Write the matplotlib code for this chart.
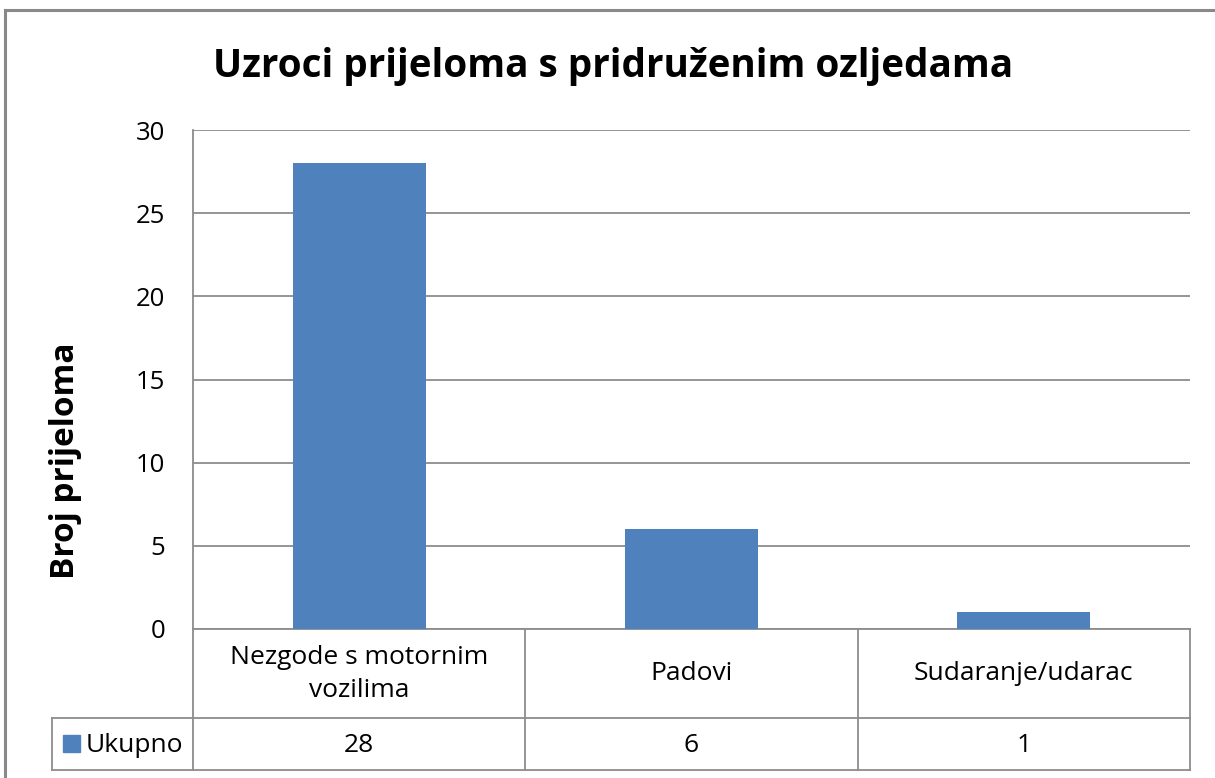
import matplotlib.pyplot as plt
from matplotlib.lines import Line2D
from matplotlib.patches import Rectangle
import matplotlib.transforms as mtransforms

plt.rcParams['font.family'] = ['Open Sans', 'DejaVu Sans']

# Data
categories = ["Nezgode s motornim\nvozilima", "Padovi", "Sudaranje/udarac"]
values = [28, 6, 1]
series_name = "Ukupno"
title = "Uzroci prijeloma s pridruženim ozljedama"
ylabel = "Broj prijeloma"

W, H = 1215, 778
bar_color = "#4F81BD"
line_color = "#8C8C8C"

fig = plt.figure(figsize=(W / 100, H / 100), dpi=100)
fig.patch.set_facecolor("white")


def fx(x):
    return x / W


def fy(y):
    return 1 - y / H


ax = fig.add_axes([fx(193), fy(629), fx(1190) - fx(193), fy(130) - fy(629)])
xs = range(len(categories))
ax.bar(xs, values, width=0.4, color=bar_color, zorder=3)
ax.set_xlim(-0.5, len(categories) - 0.5)
ax.set_ylim(0, 30)
ax.set_yticks(range(0, 31, 5))
ax.set_xticks([])
ax.tick_params(axis="y", length=0, pad=20, labelsize=18.5)
ax.yaxis.grid(True, color=line_color, lw=1.3, zorder=0)
for s in ["top", "right"]:
    ax.spines[s].set_visible(False)
for s in ["left", "bottom"]:
    ax.spines[s].set_color(line_color)
    ax.spines[s].set_linewidth(1.3)

fig.text(fx(613), fy(66), title, ha="center", va="center",
         fontsize=27.8, fontweight="bold")
fig.text(fx(65), fy(461), ylabel, ha="center", va="center",
         rotation=90, fontsize=24, fontweight="bold")

# Data table under the axis
tr = mtransforms.blended_transform_factory(ax.transData, fig.transFigure)
edges = [i - 0.5 for i in range(len(categories) + 1)]
for e in edges:
    fig.add_artist(Line2D([e, e], [fy(629), fy(770)], transform=tr,
                          color=line_color, lw=1.3))
x_right = ax.transData.transform((edges[-1], 0))[0] / W
for yy in [718, 770]:
    fig.add_artist(Line2D([fx(52), x_right], [fy(yy), fy(yy)],
                          transform=fig.transFigure, color=line_color, lw=1.3))
fig.add_artist(Line2D([fx(52), fx(52)], [fy(718), fy(770)],
                      transform=fig.transFigure, color=line_color, lw=1.3))

for i, (cat, v) in enumerate(zip(categories, values)):
    fig.text(i, fy(674), cat, transform=tr, ha="center", va="center",
             fontsize=19, linespacing=1.4)
    fig.text(i, fy(745), str(v), transform=tr, ha="center", va="center",
             fontsize=19)

fig.add_artist(Rectangle((fx(63), fy(752)), fx(80) - fx(63), fy(735) - fy(752),
                         transform=fig.transFigure, color=bar_color))
fig.text(fx(86), fy(745), series_name, ha="left", va="center", fontsize=19)

# Outer chart border
fig.add_artist(Line2D([fx(5), 1], [fy(10), fy(10)], transform=fig.transFigure,
                      color="#898989", lw=2.2))
fig.add_artist(Line2D([fx(5), fx(5)], [fy(10), 0], transform=fig.transFigure,
                      color="#898989", lw=2.2))

fig.savefig("out.png", dpi=100)
